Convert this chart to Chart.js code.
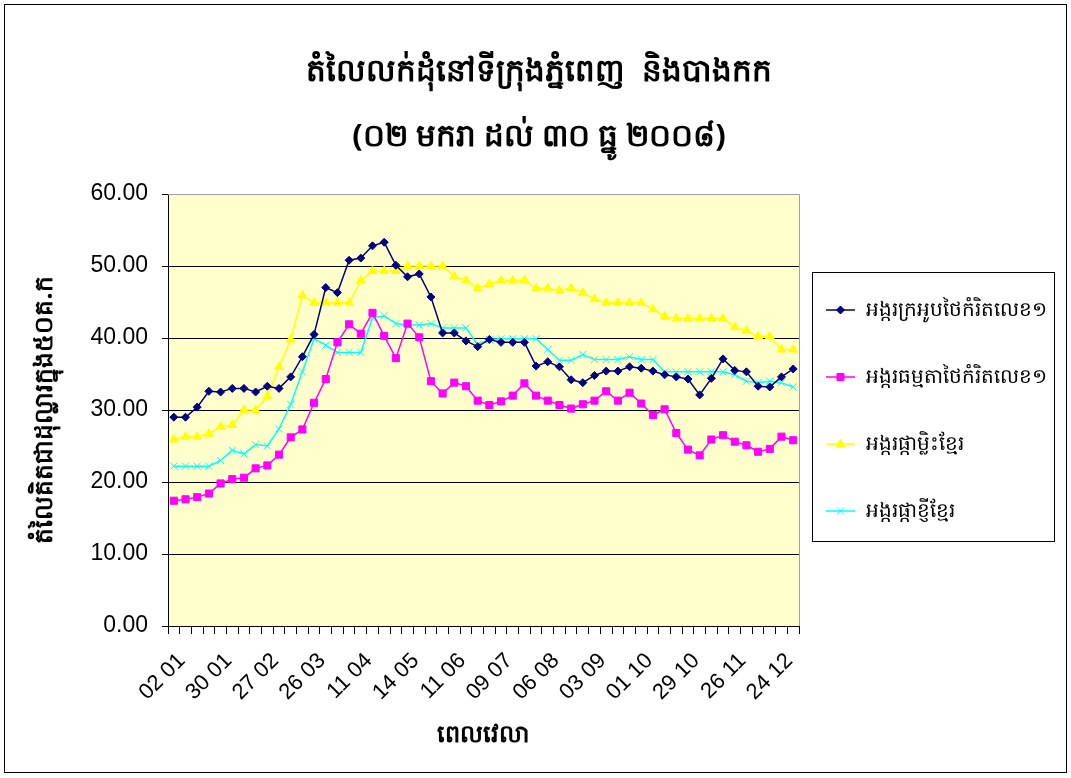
<!DOCTYPE html>
<html>
<head>
<meta charset="utf-8">
<script src="https://cdn.jsdelivr.net/npm/chart.js@4"></script>
<style>
  html, body { margin: 0; padding: 0; background: #fff; }
  #wrap { width: 1071px; height: 778px; }
</style>
</head>
<body>
<div id="wrap"><canvas id="riceChart" width="1071" height="778"></canvas></div>
<script>
// tick labels shown on the x axis (every 4th week)
var tickLabels = ['02 01', '30 01', '27 02', '26 03', '11 04', '14 05', '11 06',
  '09 07', '06 08', '03 09', '01 10', '29 10', '26 11', '24 12'];
var pointCount = 54;

var seriesNames = [
  'អង្ករក្រអូបថៃកំរិតលេខ១',
  'អង្ករធម្មតាថៃកំរិតលេខ១',
  'អង្ករផ្កាម្លិះខ្មែរ',
  'អង្ករផ្កាខ្ញីខ្មែរ'
];

var thaiFragrant = [29.0, 29.0, 30.4, 32.6, 32.5, 33.0, 33.0, 32.5, 33.3, 33.0,
  34.6, 37.4, 40.5, 47.0, 46.3, 50.8, 51.1, 52.8, 53.3, 50.1,
  48.5, 48.9, 45.7, 40.7, 40.7, 39.6, 38.8, 39.8, 39.4, 39.4,
  39.4, 36.1, 36.7, 36.0, 34.2, 33.8, 34.8, 35.4, 35.4, 36.0,
  35.8, 35.4, 34.9, 34.6, 34.3, 32.1, 34.4, 37.1, 35.5, 35.3,
  33.3, 33.2, 34.6, 35.7];

var thaiOrdinary = [17.4, 17.6, 17.9, 18.4, 19.8, 20.4, 20.6, 21.9, 22.3, 23.8,
  26.2, 27.3, 31.0, 34.3, 39.4, 41.9, 40.6, 43.5, 40.3, 37.2,
  42.0, 40.1, 34.0, 32.3, 33.8, 33.3, 31.3, 30.7, 31.2, 32.0,
  33.7, 32.0, 31.3, 30.7, 30.2, 30.8, 31.3, 32.6, 31.3, 32.4,
  30.9, 29.3, 30.1, 26.8, 24.5, 23.7, 25.9, 26.5, 25.6, 25.1,
  24.2, 24.6, 26.3, 25.8];

var khmerJasmine = [25.9, 26.3, 26.3, 26.7, 27.7, 27.9, 30.0, 30.0, 31.9, 36.0,
  39.8, 45.9, 44.9, 44.9, 44.9, 44.9, 48.0, 49.3, 49.3, 49.3,
  50.0, 50.0, 50.0, 50.0, 48.6, 48.0, 46.9, 47.5, 48.0, 48.0,
  48.0, 46.9, 46.9, 46.6, 46.9, 46.3, 45.4, 44.9, 44.9, 44.9,
  44.9, 44.0, 43.0, 42.7, 42.7, 42.7, 42.7, 42.7, 41.5, 41.0,
  40.2, 40.2, 38.4, 38.4];

var khmerKnhey = [22.2, 22.2, 22.2, 22.2, 23.0, 24.4, 23.9, 25.2, 25.0, 27.4,
  30.8, 35.3, 39.9, 39.0, 38.0, 38.0, 38.0, 42.8, 43.1, 42.0,
  41.8, 41.8, 42.0, 41.4, 41.4, 41.4, 39.1, 39.8, 39.9, 39.9,
  39.9, 39.9, 38.4, 36.9, 36.9, 37.7, 37.0, 37.0, 37.0, 37.4,
  37.0, 37.0, 35.3, 35.3, 35.3, 35.3, 35.3, 35.3, 34.9, 34.0,
  33.8, 34.0, 33.8, 33.2];

// categories: label every 4th point, rest left blank
var categories = [];
for (var i = 0; i < pointCount; i++) {
  categories.push(i % 4 === 0 ? tickLabels[i / 4] : '');
}

var khmerFont = "'Noto Sans', 'DejaVu Sans', sans-serif";
var arialFont = "'Liberation Sans', Arial, sans-serif";

function makeSet(label, data, color, style, radius) {
  return {
    label: label,
    data: data,
    borderColor: color,
    backgroundColor: color,
    borderWidth: 1.5,
    pointStyle: style,
    pointRadius: radius,
    pointBorderWidth: 1,
    pointBackgroundColor: color,
    pointBorderColor: color,
    tension: 0
  };
}

// page border, plot background, plot frame and the boxed legend
var excelLook = {
  id: 'excelLook',
  beforeDraw: function (chart) {
    var ctx = chart.ctx, a = chart.chartArea;
    ctx.save();
    ctx.fillStyle = '#fff';
    ctx.fillRect(0, 0, chart.width, chart.height);
    ctx.strokeStyle = '#000';
    ctx.lineWidth = 1;
    ctx.strokeRect(4.5, 4.5, 1062, 768);
    ctx.fillStyle = '#FFFFCC';
    ctx.fillRect(a.left, a.top, a.right - a.left, a.bottom - a.top);
    ctx.restore();
  },
  beforeDatasetsDraw: function (chart) {
    var ctx = chart.ctx, a = chart.chartArea;
    ctx.save();
    ctx.strokeStyle = '#a0a0a0';
    ctx.lineWidth = 1;
    ctx.beginPath();
    ctx.moveTo(a.left, Math.round(a.top) + 0.5);
    ctx.lineTo(Math.round(a.right) + 0.5, Math.round(a.top) + 0.5);
    ctx.lineTo(Math.round(a.right) + 0.5, a.bottom);
    ctx.stroke();
    ctx.restore();
  },
  afterDraw: function (chart) {
    var ctx = chart.ctx;
    var boxX = 812, boxY = 272, boxW = 242, boxH = 269;
    ctx.save();
    ctx.strokeStyle = '#000';
    ctx.lineWidth = 1;
    ctx.strokeRect(boxX + 0.5, boxY + 0.5, boxW, boxH);
    chart.data.datasets.forEach(function (ds, k) {
      var y = 310 + k * 67;
      ctx.strokeStyle = ds.borderColor;
      ctx.fillStyle = ds.borderColor;
      ctx.lineWidth = 1.5;
      ctx.beginPath();
      ctx.moveTo(826, y);
      ctx.lineTo(855, y);
      ctx.stroke();
      ctx.lineWidth = 1;
      Chart.helpers.drawPoint(ctx, {
        pointStyle: ds.pointStyle, radius: ds.pointRadius, borderWidth: 1, rotation: 0
      }, 840.5, y);
      ctx.fillStyle = '#000';
      ctx.font = '20px ' + khmerFont;
      ctx.textBaseline = 'middle';
      ctx.textAlign = 'left';
      ctx.fillText(ds.label, 866, y);
    });
    ctx.restore();
  }
};

window.addEventListener('load', function () {
  var ctx = document.getElementById('riceChart').getContext('2d');
  var riceChart = new Chart(ctx, {
    type: 'line',
    data: {
      labels: categories,
      datasets: [
        makeSet(seriesNames[0], thaiFragrant, '#000080', 'rectRot', 4),
        makeSet(seriesNames[1], thaiOrdinary, '#FF00FF', 'rect', 5),
        makeSet(seriesNames[2], khmerJasmine, '#FFFF00', 'triangle', 5),
        makeSet(seriesNames[3], khmerKnhey, '#00FFFF', 'crossRot', 5)
      ]
    },
    options: {
      responsive: false,
      devicePixelRatio: 1,
      animation: false,
      layout: { padding: { left: 7, right: 0, top: 0, bottom: 16 } },
      plugins: {
        legend: { display: false },
        tooltip: { enabled: false },
        title: {
          display: true,
          text: ['តំលៃលក់ដុំនៅទីក្រុងភ្នំពេញ  និងបាងកក', '(០២ មករា ដល់ ៣០ ធ្នូ ២០០៨)'],
          color: '#000',
          font: { family: khmerFont, size: 31, weight: 'bold', lineHeight: '65px' },
          padding: { top: 40, bottom: 24 }
        }
      },
      scales: {
        x: {
          type: 'category',
          offset: true,
          grid: { offset: true, drawOnChartArea: false, drawTicks: true, tickLength: 8, color: '#000' },
          border: { color: '#000', width: 1 },
          ticks: {
            autoSkip: false, minRotation: 45, maxRotation: 45,
            color: '#000', padding: 14, labelOffset: 8,
            font: { family: arialFont, size: 22 }
          },
          title: {
            display: true, text: 'ពេលវេលា', color: '#000',
            font: { family: khmerFont, size: 24, weight: 'bold' },
            padding: { top: 0, bottom: 12 }
          },
          afterFit: function (scale) { scale.height = 136; }
        },
        y: {
          min: 0, max: 60,
          grid: {
            color: function (c) { return c.tick && c.tick.value === 60 ? 'rgba(0,0,0,0)' : '#000'; },
            tickColor: '#000', tickLength: 6, lineWidth: 1
          },
          border: { color: '#000', width: 1 },
          ticks: {
            stepSize: 10, color: '#000', padding: 14,
            font: { family: arialFont, size: 23 },
            callback: function (v) { return Number(v).toFixed(2); }
          },
          title: {
            display: true, text: 'តំលៃគិតជាដុល្លារក្នុង៥០គ.ក', color: '#000',
            font: { family: khmerFont, size: 25, weight: 'bold' },
            padding: { top: 23, bottom: 0 }
          },
          afterFit: function (scale) { scale.width = 161; }
        },
        // empty right axis keeps room for the legend box
        side: {
          type: 'linear',
          position: 'right',
          display: true,
          grid: { display: false, drawTicks: false },
          border: { display: false },
          ticks: { display: false },
          afterFit: function (scale) { scale.width = 272; }
        }
      }
    },
    plugins: [excelLook]
  });
});
</script>
</body>
</html>
